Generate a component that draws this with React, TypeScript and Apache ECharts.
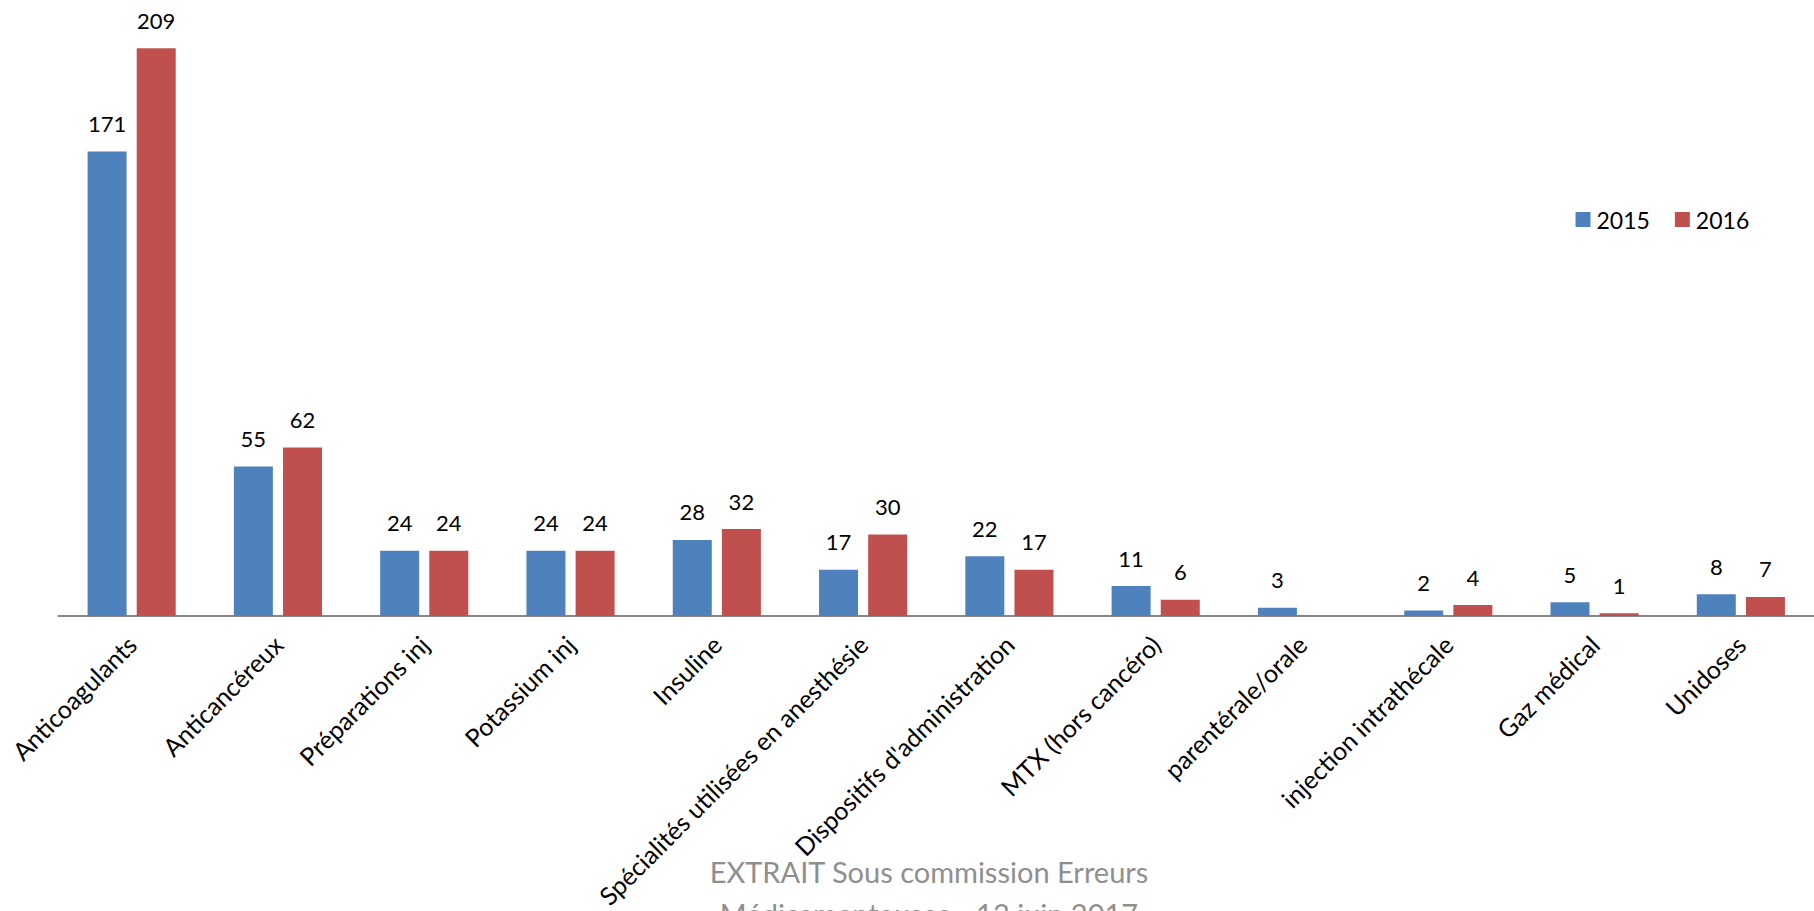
import React, { useEffect, useRef } from "react";
import * as echarts from "echarts";

const categories = [
  "Anticoagulants",
  "Anticancéreux",
  "Préparations inj",
  "Potassium inj",
  "Insuline",
  "Spécialités utilisées en anesthésie",
  "Dispositifs d'administration",
  "MTX (hors cancéro)",
  "parentérale/orale",
  "injection intrathécale",
  "Gaz médical",
  "Unidoses",
];
const values2015 = [171, 55, 24, 24, 28, 17, 22, 11, 3, 2, 5, 8];
const values2016 = [209, 62, 24, 24, 32, 30, 17, 6, null, 4, 1, 7];
const seriesNames = ["2015", "2016"];
const watermarkLines = ["EXTRAIT Sous commission Erreurs", "Médicamenteuses - 13 juin 2017"];

const FONT = "Lato";

export default function App() {
  const ref = useRef<HTMLDivElement>(null);
  useEffect(() => {
    if (!ref.current) return;
    const chart = echarts.init(ref.current, null, { renderer: "svg" });
    const labelCfg = {
      show: true,
      position: "top",
      distance: 17,
      color: "#000",
      fontFamily: FONT,
      fontSize: 22,
    };
    chart.setOption({
      animation: false,
      backgroundColor: "#ffffff",
      textStyle: { fontFamily: FONT },
      legend: {
        data: seriesNames,
        left: 1575.5,
        top: 208,
        padding: 0,
        itemWidth: 15,
        itemHeight: 15,
        itemGap: 25,
        icon: "rect",
        textStyle: { fontFamily: FONT, fontSize: 23, color: "#000", padding: [0, 0, 0, 1] },
      },
      grid: { left: 58.5, top: 18.5, width: 1763.4, height: 598, containLabel: false },
      xAxis: {
        type: "category",
        data: categories,
        axisTick: { show: false },
        axisLine: { lineStyle: { color: "#878787", width: 2 } },
        axisLabel: {
          interval: 0,
          rotate: 45,
          margin: 24,
          color: "#000",
          fontFamily: FONT,
          fontSize: 25,
        },
      },
      yAxis: {
        type: "value",
        min: 0,
        max: 220,
        show: false,
        splitLine: { show: false },
      },
      series: [
        {
          name: seriesNames[0],
          type: "bar",
          data: values2015,
          barWidth: 39,
          barGap: "26%",
          itemStyle: { color: "#4F81BD" },
          label: labelCfg,
        },
        {
          name: seriesNames[1],
          type: "bar",
          data: values2016,
          barWidth: 39,
          itemStyle: { color: "#C0504D" },
          label: labelCfg,
        },
      ],
      graphic: [
        {
          type: "text",
          x: 929,
          y: 871,
          style: {
            text: watermarkLines[0],
            fill: "#8f8f8f",
            font: `29px ${FONT}`,
            textAlign: "center",
            textVerticalAlign: "middle",
          },
        },
        {
          type: "text",
          x: 929,
          y: 913,
          style: {
            text: watermarkLines[1],
            fill: "#8f8f8f",
            font: `29px ${FONT}`,
            textAlign: "center",
            textVerticalAlign: "middle",
          },
        },
      ],
    });
    return () => chart.dispose();
  }, []);
  return (
    <div
      ref={ref}
      style={{ position: "absolute", left: 0, top: 0, width: 1814, height: 911 }}
    />
  );
}
